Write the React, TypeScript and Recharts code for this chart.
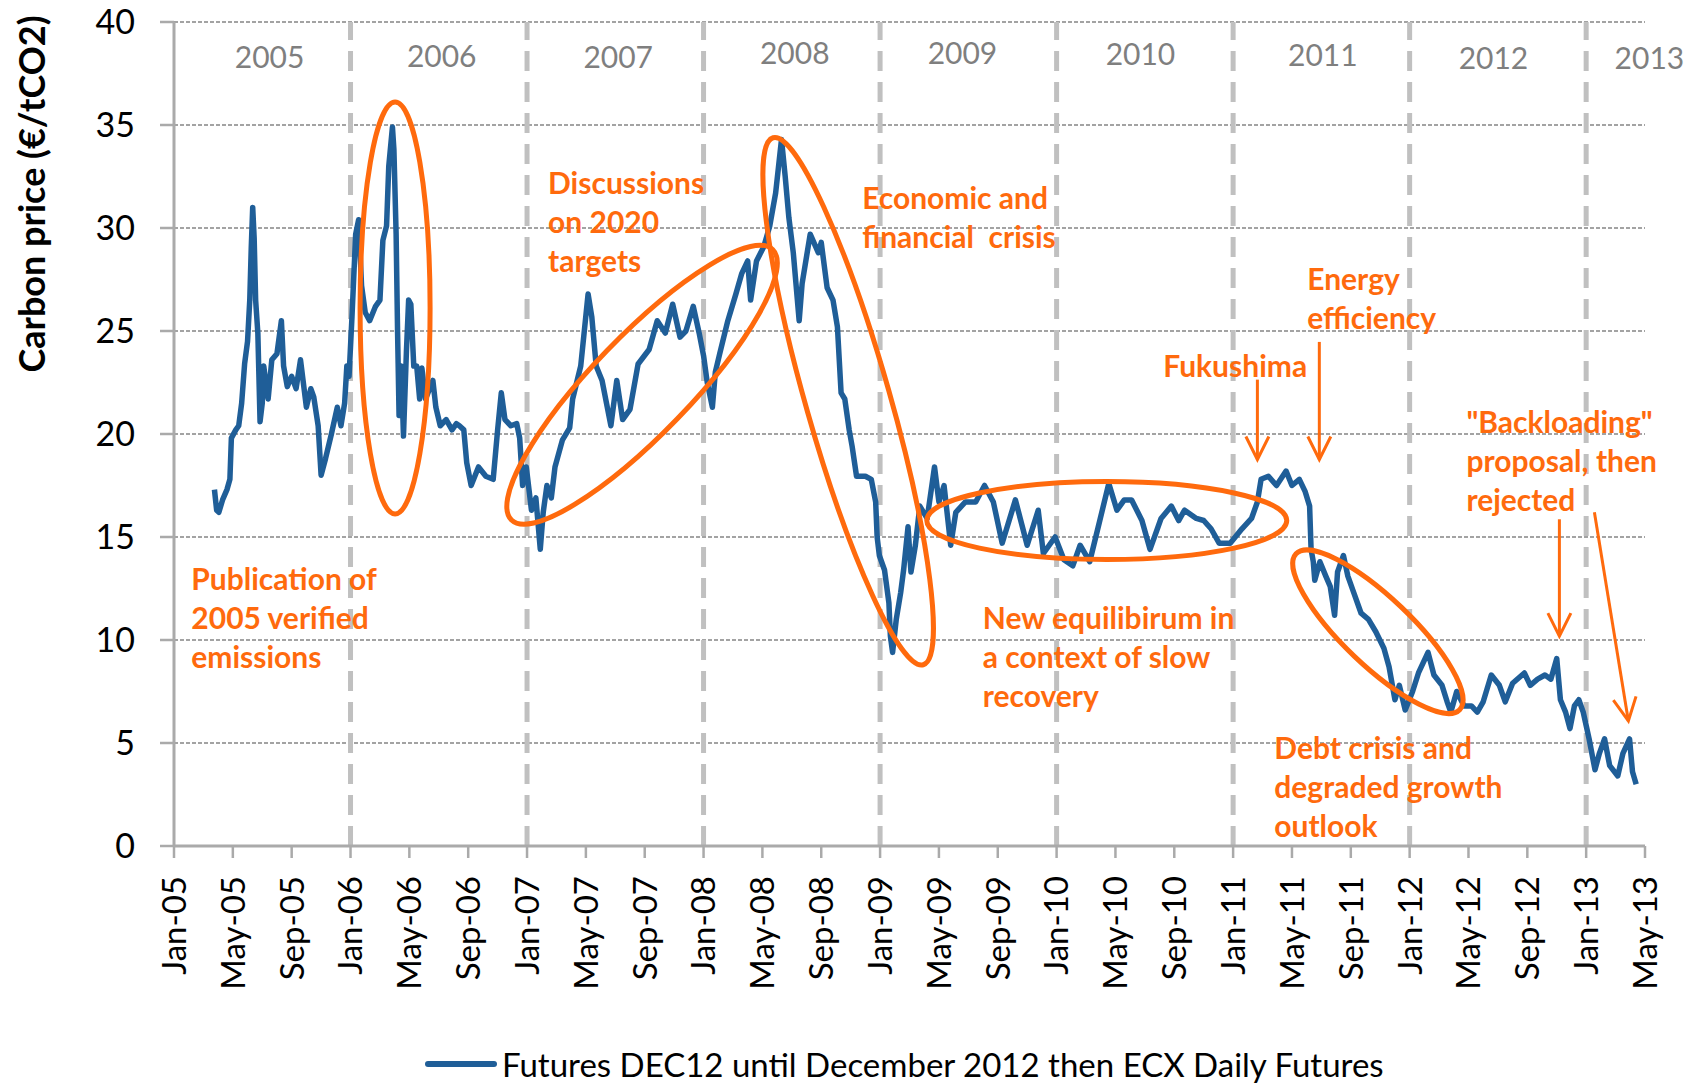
import React from 'react';
import { LineChart, Line, XAxis, YAxis, CartesianGrid, ReferenceLine, ReferenceDot } from 'recharts';

// x = months since Jan 2005
const months = [
  2.75, 2.9, 3.05, 3.3, 3.6, 3.8, 3.9, 4.2, 4.4, 4.6,
  4.8, 5.0, 5.15, 5.25, 5.35, 5.45, 5.55, 5.7, 5.85, 6.0,
  6.1, 6.4, 6.65, 7.0, 7.3, 7.45, 7.7, 8.0, 8.3, 8.6,
  9.0, 9.3, 9.5, 9.8, 10.0, 10.3, 10.7, 11.1, 11.35, 11.6,
  11.75, 11.9, 12.1, 12.35, 12.55, 12.75, 13.0, 13.3, 13.7, 14.0,
  14.2, 14.45, 14.6, 14.85, 14.95, 15.1, 15.2, 15.3, 15.45, 15.6,
  15.8, 15.95, 16.1, 16.3, 16.5, 16.7, 16.85, 17.1, 17.6, 17.8,
  18.1, 18.5, 18.9, 19.2, 19.4, 19.7, 19.9, 20.2, 20.7, 21.2,
  21.7, 22.0, 22.25, 22.5, 22.9, 23.3, 23.5, 23.7, 23.95, 24.3,
  24.6, 24.9, 25.1, 25.35, 25.65, 25.9, 26.4, 26.9, 27.1, 27.65,
  28.15, 28.4, 28.7, 29.1, 29.7, 30.1, 30.5, 31.0, 31.55, 32.3,
  32.85, 33.4, 33.9, 34.4, 34.8, 35.3, 35.7, 36.0, 36.25, 36.6,
  36.8, 37.1, 37.65, 38.2, 38.6, 39.0, 39.2, 39.6, 40.1, 40.5,
  40.9, 41.3, 41.55, 41.8, 42.1, 42.5, 42.7, 43.25, 43.8, 44.0,
  44.4, 44.8, 45.1, 45.35, 45.6, 45.9, 46.1, 46.4, 47.0, 47.4,
  47.7, 47.8, 47.95, 48.3, 48.6, 48.7, 48.85, 49.1, 49.4, 49.6,
  49.9, 50.1, 50.4, 50.7, 51.2, 51.7, 52.0, 52.35, 52.8, 53.15,
  53.8, 54.5, 55.1, 55.7, 56.3, 57.2, 58.0, 58.75, 59.1, 59.9,
  60.5, 61.1, 61.6, 62.25, 62.8, 63.55, 64.1, 64.6, 65.1, 65.8,
  66.35, 67.1, 67.8, 68.3, 68.7, 69.5, 70.0, 70.5, 71.05, 71.8,
  72.6, 73.25, 73.65, 73.9, 74.4, 74.95, 75.6, 76.0, 76.5, 76.9,
  77.2, 77.3, 77.45, 77.55, 77.9, 78.3, 78.6, 78.9, 79.1, 79.5,
  79.8, 80.2, 80.7, 81.2, 81.7, 82.25, 82.6, 83.0, 83.3, 83.7,
  84.2, 84.6, 85.25, 85.65, 86.2, 86.55, 86.8, 87.2, 87.7, 88.2,
  88.6, 89.0, 89.55, 90.1, 90.5, 91.0, 91.8, 92.2, 92.7, 93.2,
  93.6, 94.0, 94.25, 94.6, 94.9, 95.2, 95.5, 95.8, 96.2, 96.6,
  96.9, 97.25, 97.6, 98.15, 98.5, 98.95, 99.15, 99.4,
];

const prices = [
  17.3, 16.3, 16.2, 16.8, 17.3, 17.8, 19.8, 20.2, 20.4, 21.5,
  23.4, 24.5, 26.5, 29.0, 31.0, 29.5, 26.5, 24.9, 20.6, 21.5,
  23.3, 21.7, 23.6, 23.9, 25.5, 23.3, 22.3, 22.8, 22.2, 23.6,
  21.3, 22.2, 21.8, 20.4, 18.0, 18.8, 20.0, 21.3, 20.4, 21.5,
  23.3, 22.8, 25.7, 29.7, 30.4, 27.2, 25.9, 25.5, 26.2, 26.5,
  29.4, 30.1, 33.0, 34.9, 33.8, 29.7, 24.9, 20.9, 23.3, 19.9,
  24.0, 26.5, 26.3, 23.3, 23.3, 21.7, 23.2, 21.7, 22.6, 21.3,
  20.4, 20.7, 20.2, 20.5, 20.4, 20.2, 18.6, 17.5, 18.4, 17.95,
  17.8, 20.2, 22.0, 20.7, 20.4, 20.5, 19.8, 17.5, 18.4, 16.3,
  16.9, 14.4, 16.2, 17.5, 16.9, 18.4, 19.7, 20.3, 21.7, 23.3,
  26.8, 25.7, 23.3, 22.6, 20.4, 22.6, 20.7, 21.2, 23.4, 24.1,
  25.5, 24.9, 26.3, 24.7, 25.0, 26.2, 24.9, 23.8, 22.5, 21.3,
  23.0, 23.9, 25.5, 26.8, 27.8, 28.4, 26.5, 28.4, 29.1, 30.1,
  31.7, 34.3, 32.5, 30.5, 28.8, 25.5, 27.3, 29.7, 28.8, 29.3,
  27.1, 26.5, 25.2, 22.0, 21.7, 20.2, 19.4, 17.95, 17.95, 17.8,
  16.7, 15.0, 14.1, 13.4, 11.8, 10.2, 9.4, 11.0, 12.3, 13.4,
  15.5, 13.3, 14.6, 16.5, 15.9, 18.4, 16.7, 17.5, 14.6, 16.2,
  16.7, 16.7, 17.5, 16.7, 14.7, 16.8, 14.6, 16.3, 14.2, 15.0,
  13.9, 13.6, 14.6, 13.8, 15.4, 17.6, 16.3, 16.8, 16.8, 15.8,
  14.4, 15.9, 16.5, 15.8, 16.3, 15.9, 15.8, 15.4, 14.7, 14.7,
  15.4, 15.9, 16.7, 17.8, 17.95, 17.5, 18.2, 17.5, 17.8, 17.2,
  16.5, 14.4, 13.8, 12.9, 13.8, 13.1, 12.6, 11.2, 13.3, 14.1,
  13.1, 12.3, 11.3, 11.0, 10.4, 9.6, 8.7, 7.1, 7.8, 6.6,
  7.5, 8.4, 9.4, 8.3, 7.8, 7.0, 6.5, 7.5, 6.8, 6.8,
  6.5, 7.0, 8.3, 7.8, 7.0, 7.9, 8.4, 7.8, 8.1, 8.3,
  8.1, 9.1, 7.1, 6.5, 5.7, 6.8, 7.1, 6.5, 5.2, 3.7,
  4.5, 5.2, 3.9, 3.4, 4.5, 5.2, 3.6, 3.0,
];

const xTickLabels = [
  'Jan-05', 'May-05', 'Sep-05', 'Jan-06', 'May-06', 'Sep-06', 'Jan-07', 'May-07', 'Sep-07',
  'Jan-08', 'May-08', 'Sep-08', 'Jan-09', 'May-09', 'Sep-09', 'Jan-10', 'May-10', 'Sep-10',
  'Jan-11', 'May-11', 'Sep-11', 'Jan-12', 'May-12', 'Sep-12', 'Jan-13', 'May-13',
];
const xTickMonths = xTickLabels.map((_, i) => i * 4);
const yTicks = [0, 5, 10, 15, 20, 25, 30, 35, 40];

const yearLineMonths = [12, 24, 36, 48, 60, 72, 84, 96];
const yearLabels = ['2005', '2006', '2007', '2008', '2009', '2010', '2011', '2012', '2013'];
const yearLabelMonths = [6.5, 18.2, 30.2, 42.2, 53.6, 65.7, 78.1, 89.7, 100.3];
const yearLabelValues = [38.35, 38.4, 38.35, 38.55, 38.55, 38.5, 38.45, 38.3, 38.3];

const annotations = [
  { m: 1.18, v: 12.99, lines: ['Publication of', '2005 verified', 'emissions'] },
  { m: 25.43, v: 32.24, lines: ['Discussions', 'on 2020', 'targets'] },
  { m: 46.78, v: 31.52, lines: ['Economic and', 'financial  crisis'] },
  { m: 77.04, v: 27.58, lines: ['Energy', 'efficiency'] },
  { m: 67.25, v: 23.36, lines: ['Fukushima'] },
  { m: 87.86, v: 20.62, lines: ['"Backloading"', 'proposal, then', 'rejected'] },
  { m: 54.98, v: 11.1, lines: ['New equilibirum in', 'a context of slow', 'recovery'] },
  { m: 74.8, v: 4.81, lines: ['Debt crisis and', 'degraded growth', 'outlook'] },
];

const arrows = [
  { m1: 73.65, v1: 22.64, m2: 73.65, v2: 18.76 },
  { m1: 77.86, v1: 24.47, m2: 77.86, v2: 18.76 },
  { m1: 94.18, v1: 15.86, m2: 94.18, v2: 10.19 },
  { m1: 96.56, v1: 16.2, m2: 98.87, v2: 6.07 },
];

const ellipses = [
  { m: 15.03, v: 26.12, rx: 35, ry: 206, angle: 0 },
  { m: 31.82, v: 22.39, rx: 188, ry: 49, angle: -46 },
  { m: 45.83, v: 21.59, rx: 274, ry: 42, angle: 74.1 },
  { m: 63.41, v: 15.8, rx: 180, ry: 39, angle: 0 },
  { m: 81.84, v: 10.4, rx: 113, ry: 34, angle: 43.6 },
];

const data = months.map((m, i) => ({ m, v: prices[i] }));

const FONT = "Lato, 'Noto Sans', sans-serif";
const BLUE = '#1F5E98';
const ORANGE = '#FF6A0D';
const ANNOT_LINE = 39;

const XTick = (props: any) => {
  const { x, y, payload } = props;
  const label = xTickLabels[Math.round(payload.value / 4)];
  return (
    <text
      x={x}
      y={y}
      transform={`rotate(-90, ${x}, ${y})`}
      textAnchor="end"
      dy="0.36em"
      fontSize={33}
      fill="#000"
      fontFamily={FONT}
    >
      {label}
    </text>
  );
};

const AnnotationText = ({ cx, cy, lines }: any) => (
  <text x={cx} y={cy} fontFamily={FONT} fontSize={30} fontWeight={700} fill={ORANGE}>
    {lines.map((l: string, i: number) => (
      <tspan key={i} x={cx} y={cy + i * ANNOT_LINE} dominantBaseline="central" style={{ whiteSpace: 'pre' }}>
        {l}
      </tspan>
    ))}
  </text>
);

const Arrow = (p: any) => {
  const { x1, y1, x2, y2 } = p;
  const dx = x2 - x1;
  const dy = y2 - y1;
  const len = Math.sqrt(dx * dx + dy * dy) || 1;
  const ux = dx / len;
  const uy = dy / len;
  const hl = 23;
  const hw = 11.5;
  const bx = x2 - ux * hl;
  const by = y2 - uy * hl;
  const ax = bx - uy * hw;
  const ay = by + ux * hw;
  const cx2 = bx + uy * hw;
  const cy2 = by - ux * hw;
  return (
    <g>
      <line x1={x1} y1={y1} x2={x2} y2={y2} stroke={ORANGE} strokeWidth={3} />
      <path d={`M${ax},${ay} L${x2},${y2} L${cx2},${cy2}`} fill="none" stroke={ORANGE} strokeWidth={3} />
    </g>
  );
};

export default function App() {
  return (
    <div style={{ position: 'absolute', left: 0, top: 0, width: 1701, height: 1086, background: '#fff', fontFamily: FONT, overflow: 'hidden' }}>
      <LineChart
        width={1701}
        height={1086}
        data={data}
        margin={{ top: 22, right: 56, left: 74, bottom: 90 }}
        style={{ fontFamily: FONT }}
      >
        <CartesianGrid vertical={false} stroke="#a3a3a3" strokeWidth={2} strokeDasharray="4 2" />
        {yearLineMonths.map((m) => (
          <ReferenceLine key={`yl${m}`} x={m} stroke="#c0c0c0" strokeWidth={5} strokeDasharray="20 11" />
        ))}
        <XAxis
          dataKey="m"
          type="number"
          domain={[0, 100]}
          ticks={xTickMonths}
          interval={0}
          height={150}
          tickSize={12}
          tickMargin={18}
          tick={<XTick />}
          axisLine={{ stroke: '#aaaaaa', strokeWidth: 3 }}
          tickLine={{ stroke: '#aaaaaa', strokeWidth: 2.5 }}
        />
        <YAxis
          type="number"
          domain={[0, 40]}
          ticks={yTicks}
          interval={0}
          width={100}
          tickSize={14}
          tickMargin={25}
          tick={{ fontSize: 34, fill: '#000', fontFamily: FONT }}
          axisLine={{ stroke: '#aaaaaa', strokeWidth: 3 }}
          tickLine={{ stroke: '#aaaaaa', strokeWidth: 2.5 }}
        />
        {yearLabels.map((t, i) => (
          <ReferenceDot
            key={`yt${t}`}
            x={yearLabelMonths[i]}
            y={yearLabelValues[i]}
            r={0}
            ifOverflow="visible"
            shape={(p: any) => (
              <text x={p.cx} y={p.cy} textAnchor="middle" dominantBaseline="central" fontSize={30} fill="#7f7f7f" fontFamily={FONT}>
                {t}
              </text>
            )}
          />
        ))}
        <Line
          type="linear"
          dataKey="v"
          stroke={BLUE}
          strokeWidth={5.5}
          strokeLinejoin="round"
          dot={false}
          activeDot={false}
          isAnimationActive={false}
        />
        {ellipses.map((e, i) => (
          <ReferenceDot
            key={`el${i}`}
            x={e.m}
            y={e.v}
            r={0}
            ifOverflow="visible"
            shape={(p: any) => (
              <ellipse
                cx={p.cx}
                cy={p.cy}
                rx={e.rx}
                ry={e.ry}
                transform={`rotate(${e.angle} ${p.cx} ${p.cy})`}
                fill="none"
                stroke={ORANGE}
                strokeWidth={5}
              />
            )}
          />
        ))}
        {arrows.map((a, i) => (
          <ReferenceLine
            key={`ar${i}`}
            segment={[{ x: a.m1, y: a.v1 }, { x: a.m2, y: a.v2 }]}
            ifOverflow="visible"
            shape={(p: any) => <Arrow {...p} />}
          />
        ))}
        {annotations.map((a, i) => (
          <ReferenceDot
            key={`an${i}`}
            x={a.m}
            y={a.v}
            r={0}
            ifOverflow="visible"
            shape={(p: any) => <AnnotationText cx={p.cx} cy={p.cy} lines={a.lines} />}
          />
        ))}
      </LineChart>
      <div
        style={{
          position: 'absolute',
          left: 31,
          top: 194,
          transform: 'translate(-50%, -50%) rotate(-90deg)',
          fontFamily: FONT,
          fontWeight: 700,
          fontSize: 36,
          color: '#000',
          whiteSpace: 'nowrap',
        }}
      >
        Carbon price (€/tCO2)
      </div>
      <div
        style={{
          position: 'absolute',
          left: 425,
          top: 1044,
          height: 40,
          display: 'flex',
          alignItems: 'center',
          fontFamily: FONT,
          fontSize: 33,
          color: '#000',
          whiteSpace: 'nowrap',
        }}
      >
        <div style={{ width: 72, height: 6, background: BLUE, borderRadius: 3, marginRight: 5 }} />
        <span>Futures DEC12 until December 2012 then ECX Daily Futures</span>
      </div>
    </div>
  );
}
